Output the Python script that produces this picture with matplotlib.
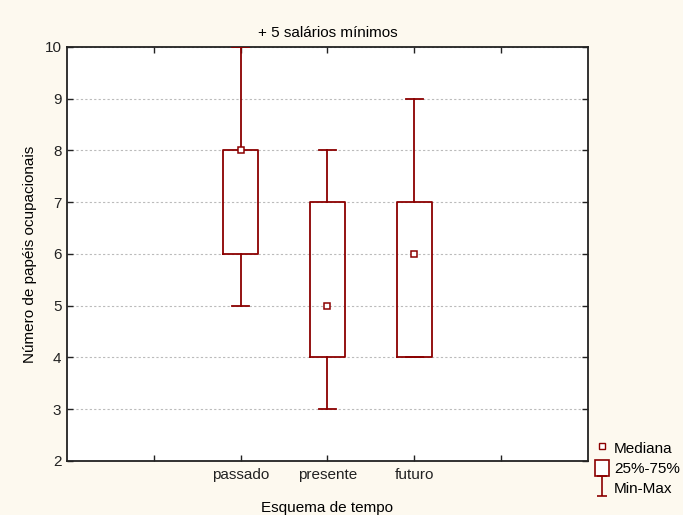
import matplotlib
matplotlib.use('Agg')
import matplotlib.pyplot as plt
from matplotlib.path import Path
from matplotlib.lines import Line2D
from matplotlib.patches import Rectangle

plt.rcParams['font.family'] = ['Liberation Sans', 'DejaVu Sans']

# resumo por esquema de tempo
categorias = ['passado', 'presente', 'futuro']
posicoes = [2, 3, 4]
minimo = [5, 3, 4]
q1 = [6, 4, 4]
mediana = [8, 5, 6]
q3 = [8, 7, 7]
maximo = [10, 8, 9]

cor = '#8b0000'
fundo = '#fdf9ef'

fig = plt.figure(figsize=(6.83, 5.15), dpi=100, facecolor=fundo)
ax = fig.add_axes([0.098, 0.105, 0.763, 0.804])
ax.set_facecolor('white')

stats = []
for i in range(len(categorias)):
    stats.append({'whislo': minimo[i], 'q1': q1[i], 'med': mediana[i],
                  'q3': q3[i], 'whishi': maximo[i], 'fliers': []})

ax.bxp(stats, positions=posicoes, widths=0.41, showfliers=False,
       boxprops=dict(color=cor, linewidth=1.3),
       whiskerprops=dict(color=cor, linewidth=1.3),
       capprops=dict(color=cor, linewidth=1.3),
       medianprops=dict(linestyle='none'),
       capwidths=0.2, manage_ticks=False, zorder=3)
ax.plot(posicoes, mediana, 's', markersize=5, markerfacecolor='white',
        markeredgecolor=cor, markeredgewidth=1.1, linestyle='none', zorder=4)

ax.set_xlim(0, 6)
ax.set_ylim(2, 10)
ax.set_xticks([1, 2, 3, 4, 5])
ax.set_xticklabels(['', 'passado', 'presente', 'futuro', ''])
ax.set_yticks(range(2, 11))
ax.tick_params(direction='in', top=True, right=True, length=4, width=1,
               labelsize=11, colors='#222222')
ax.tick_params(axis='x', pad=5)
ax.tick_params(axis='y', pad=4)
ax.yaxis.grid(True, linestyle=(0, (2, 2)), color='#bbbbbb', linewidth=0.8)
for s in ax.spines.values():
    s.set_linewidth(1.3)
    s.set_color('#222222')

ax.set_xlabel('Esquema de tempo', fontsize=11, labelpad=14)
ax.set_ylabel('Número de papéis ocupacionais', fontsize=11, labelpad=5)
ax.set_title('+ 5 salários mínimos', fontsize=11, pad=7)

# marcador em forma de I para Min-Max
minmax = Path([(-0.5, 1), (0.5, 1), (0, 1), (0, -1), (-0.5, -1), (0.5, -1)],
              [Path.MOVETO, Path.LINETO, Path.MOVETO, Path.LINETO,
               Path.MOVETO, Path.LINETO])
handles = [
    Line2D([], [], marker='s', markersize=5, markerfacecolor='white',
           markeredgecolor=cor, linestyle='none'),
    Rectangle((0, 0), 1, 1, facecolor='white', edgecolor=cor, linewidth=1.2),
    Line2D([], [], marker=minmax, markersize=14, color=cor,
           markeredgewidth=1.2, linestyle='none'),
]
fig.legend(handles, ['Mediana', '25%-75%', 'Min-Max'], loc='lower left',
           bbox_to_anchor=(0.871, 0.037), frameon=False, fontsize=11,
           handlelength=0.9, handleheight=1.25, handletextpad=0.35,
           labelspacing=0.25, borderaxespad=0, borderpad=0)

fig.savefig('out.png', dpi=100, facecolor=fundo)
